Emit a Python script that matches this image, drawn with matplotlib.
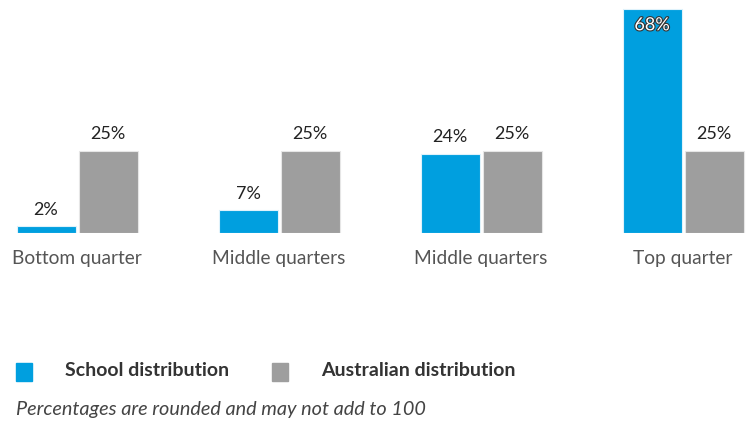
import matplotlib
matplotlib.use("Agg")
import matplotlib.pyplot as plt
import matplotlib.patheffects as pe
import numpy as np

plt.rcParams['font.family'] = ['Lato', 'DejaVu Sans']

categories = ["Bottom quarter", "Middle quarters", "Middle quarters", "Top quarter"]
school = [2, 7, 24, 68]
australia = [25, 25, 25, 25]
series_names = ["School distribution", "Australian distribution"]
note = "Percentages are rounded and may not add to 100"

BLUE = "#009FDF"
GRAY = "#9E9E9E"

W, H = 746, 421
fig = plt.figure(figsize=(W / 100, H / 100), dpi=100)

# axes covering the full width; baseline at 233 px from top
base_px = 233
ax = fig.add_axes([0, (H - base_px) / H, 1, base_px / H])
ax.set_axis_off()
px_per_unit = 202
px_per_pct = 3.3
ax.set_xlim(-77 / px_per_unit, (W - 77) / px_per_unit)
ax.set_ylim(0, base_px / px_per_pct)

x = np.arange(len(categories))
bw = 59 / px_per_unit
off = 31 / px_per_unit
ax.bar(x - off, school, width=bw, color=BLUE, edgecolor="#dff2fb", linewidth=0.8)
ax.bar(x + off, australia, width=bw, color=GRAY, edgecolor="#e6e6e6", linewidth=0.8)

for xi, v in zip(x - off, school):
    if v > 60:
        t = ax.annotate(f"{v}%", (xi, v), xytext=(0, -12), textcoords="offset points",
                        ha="center", va="center", fontsize=13, color="white")
        t.set_path_effects([pe.withStroke(linewidth=1.6, foreground="#333333")])
    else:
        ax.annotate(f"{v}%", (xi, v), xytext=(0, 6), textcoords="offset points",
                    ha="center", va="bottom", fontsize=13, color="#222222")
for xi, v in zip(x + off, australia):
    ax.annotate(f"{v}%", (xi, v), xytext=(0, 6), textcoords="offset points",
                ha="center", va="bottom", fontsize=13, color="#222222")

for xi, c in zip(x, categories):
    ax.annotate(c, (xi, 0), xytext=(0, -26 / 1.389), textcoords="offset points",
                ha="center", va="center", fontsize=13.8, color="#555555",
                annotation_clip=False)

def fx(px):
    return px / W
def fy(py):
    return 1 - py / H

# legend
fig.patches.append(plt.Rectangle((fx(16), fy(381)), 16 / W, 18 / H, transform=fig.transFigure,
                                 color=BLUE))
fig.text(fx(65), fy(371), series_names[0], ha="left", va="center", fontsize=14,
         fontweight="bold", color="#333333")
fig.patches.append(plt.Rectangle((fx(272), fy(381)), 16 / W, 18 / H, transform=fig.transFigure,
                                 color=GRAY))
fig.text(fx(321), fy(371), series_names[1], ha="left", va="center", fontsize=14,
         fontweight="bold", color="#333333")
fig.text(fx(16), fy(409), note, ha="left", va="center", fontsize=14.3,
         style="italic", color="#444444")

fig.savefig("out.png", dpi=100, facecolor="white")
